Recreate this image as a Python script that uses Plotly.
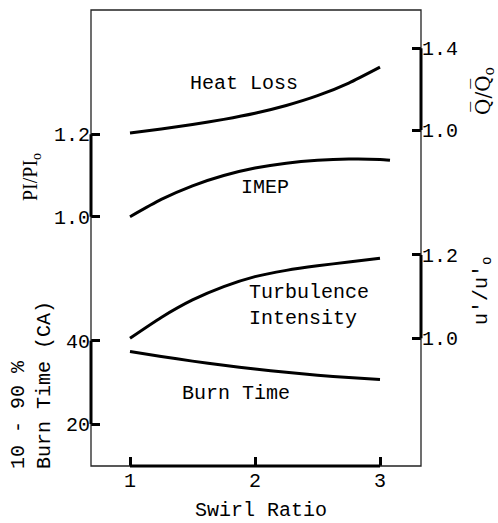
import plotly.graph_objects as go

# ---- data ----
swirl = [1.0, 1.25, 1.5, 1.75, 2.0, 2.25, 2.5, 2.75, 3.0]
heat_loss = [0.985, 1.005, 1.027, 1.052, 1.082, 1.120, 1.168, 1.230, 1.308]   # Q/Q0
imep_swirl = [1.0, 1.25, 1.5, 1.75, 2.0, 2.25, 2.5, 2.75, 3.0, 3.08]
imep = [1.0, 1.042, 1.075, 1.100, 1.118, 1.130, 1.137, 1.140, 1.139, 1.137]  # PI/PI0
turbulence = [1.0, 1.050, 1.092, 1.124, 1.148, 1.163, 1.174, 1.183, 1.192]  # u'/u'0
burn_time = [37.4, 36.2, 35.1, 34.1, 33.2, 32.4, 31.7, 31.15, 30.7]          # CA

x_ticks = [1, 2, 3]
pi_ticks = [1.0, 1.2]
burn_ticks = [20, 40]
q_ticks = [1.0, 1.4]
u_ticks = [1.0, 1.2]

FONT = "Liberation Mono"
FS = 20
W, H = 498, 523
L, R, T, B = 91, 77, 10, 57
PW, PH = W - L - R, H - T - B


def px(xp):
    return (xp - L) / PW


def py(yp):
    return (H - B - yp) / PH


fig = go.Figure()
line = dict(color="black", width=3, shape="spline", smoothing=0.6)
fig.add_trace(go.Scatter(x=swirl, y=heat_loss, yaxis="y3", mode="lines", line=line, hoverinfo="skip"))
fig.add_trace(go.Scatter(x=imep_swirl, y=imep, yaxis="y", mode="lines", line=line, hoverinfo="skip"))
fig.add_trace(go.Scatter(x=swirl, y=turbulence, yaxis="y4", mode="lines", line=line, hoverinfo="skip"))
fig.add_trace(go.Scatter(x=swirl, y=burn_time, yaxis="y2", mode="lines", line=line, hoverinfo="skip"))

tickfont = dict(family=FONT, size=FS, color="black")
common_y = dict(showgrid=False, zeroline=False, showline=False, ticks="inside",
                ticklen=9, tickwidth=2.5, tickcolor="black", tickfont=tickfont,
                tickmode="array", fixedrange=True)

fig.update_layout(
    width=W, height=H,
    margin=dict(l=L, r=R, t=T, b=B, pad=0),
    paper_bgcolor="white", plot_bgcolor="white",
    showlegend=False,
    xaxis=dict(range=[0.688, 3.328], showgrid=False, zeroline=False, showline=False,
               ticks="inside", ticklen=9, tickwidth=2.5, tickcolor="black",
               tickmode="array", tickvals=x_ticks, ticktext=[str(v) for v in x_ticks],
               tickfont=tickfont, fixedrange=True),
    yaxis=dict(range=[0.3949, 1.5017], side="left", tickvals=pi_ticks,
               ticktext=["1.0", "1.2"], **common_y),
    yaxis2=dict(range=[9.916, 119.40], side="left", overlaying="y", anchor="x",
                tickvals=burn_ticks, ticktext=["20", "40"], **common_y),
    yaxis3=dict(range=[-0.645, 1.5875], side="right", overlaying="y", anchor="x",
                tickvals=q_ticks, ticktext=["1.0", "1.4"], **common_y),
    yaxis4=dict(range=[0.6934, 1.788], side="right", overlaying="y", anchor="x",
                tickvals=u_ticks, ticktext=["1.0", "1.2"], **common_y),
)

shapes = [dict(type="rect", xref="paper", yref="paper", x0=0, x1=1, y0=0, y1=1,
               line=dict(color="#222", width=1.3), layer="above")]
thick = dict(color="black", width=3)
shapes += [
    dict(type="line", xref="paper", yref="y", x0=0, x1=0, y0=pi_ticks[0], y1=pi_ticks[1], line=thick),
    dict(type="line", xref="paper", yref="y2", x0=0, x1=0, y0=burn_ticks[0], y1=burn_ticks[1], line=thick),
    dict(type="line", xref="paper", yref="y3", x0=1, x1=1, y0=q_ticks[0], y1=q_ticks[1], line=thick),
    dict(type="line", xref="paper", yref="y4", x0=1, x1=1, y0=u_ticks[0], y1=u_ticks[1], line=thick),
    dict(type="line", xref="x", yref="paper", x0=x_ticks[0], x1=x_ticks[-1], y0=0, y1=0, line=thick),
]
fig.update_layout(shapes=shapes)

tf = dict(family=FONT, size=FS, color="black")


def note(xp, yp, text, xanchor="center", yanchor="middle", **kw):
    return dict(x=px(xp), y=py(yp), xref="paper", yref="paper", text=text,
                showarrow=False, xanchor=xanchor, yanchor=yanchor,
                font=kw.pop("font", tf), **kw)


ann = [
    note(244, 84, "Heat Loss"),
    note(265, 187, "IMEP"),
    note(247, 305, "Turbulence<br>Intensity", xanchor="left", align="left"),
    note(236, 393, "Burn Time"),
    note(261, 511, "Swirl Ratio"),
    note(31, 177, "PI/PI<sub>o</sub>", textangle=-90,
         font=dict(family="Liberation Serif", size=FS, color="black")),
    note(31, 471, "10 - 90 %<br>Burn Time (CA)", yanchor="bottom", textangle=-90, align="left"),
    note(483, 91, "Q\u0305/Q\u0305<sub>o</sub>", textangle=-90,
         font=dict(family="DejaVu Serif", size=FS, color="black")),
    note(482, 291, "u'/u'<sub>o</sub>", textangle=-90),
]
fig.update_layout(annotations=ann)

fig.write_html("out.html")
